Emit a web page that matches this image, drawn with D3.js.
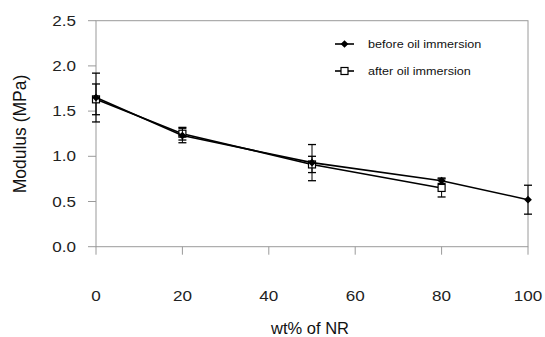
<!DOCTYPE html>
<html>
<head>
<meta charset="utf-8">
<script src="https://cdn.jsdelivr.net/npm/d3@7"></script>
<style>
  html, body { margin: 0; padding: 0; background: #fff; }
  svg { display: block; font-family: "Liberation Sans", Arial, sans-serif; }
</style>
</head>
<body>
<svg id="chart" width="545" height="337"></svg>
<script>
// Modulus vs NR content, before and after oil immersion
const nrContent = [0, 20, 50, 80, 100];
const beforeModulus = [1.65, 1.23, 0.93, 0.73, 0.52];
const beforeError = [0.27, 0.08, 0.20, 0.03, 0.16];
const afterContent = [0, 20, 50, 80];
const afterModulus = [1.63, 1.25, 0.91, 0.65];
const afterError = [0.17, 0.07, 0.09, 0.10];
const xTicks = [0, 20, 40, 60, 80, 100];
const yTicks = [0.0, 0.5, 1.0, 1.5, 2.0, 2.5];
const seriesNames = ["before oil immersion", "after oil immersion"];

const svg = d3.select("#chart");
const plotLeft = 96, plotRight = 528, plotTop = 20.7, plotBottom = 246.7;

const x = d3.scaleLinear().domain([0, 100]).range([plotLeft, plotRight]);
const y = d3.scaleLinear().domain([0, 2.5]).range([plotBottom, plotTop]);

const frameColor = "#9a9a9a";

// plot frame
svg.append("rect")
  .attr("x", plotLeft).attr("y", plotTop)
  .attr("width", plotRight - plotLeft).attr("height", plotBottom - plotTop)
  .attr("fill", "none").attr("stroke", frameColor).attr("stroke-width", 1);

// y ticks and labels
const yAxis = svg.append("g");
yTicks.forEach(v => {
  yAxis.append("line")
    .attr("x1", plotLeft - 8).attr("x2", plotLeft)
    .attr("y1", y(v)).attr("y2", y(v))
    .attr("stroke", frameColor);
  yAxis.append("text")
    .attr("transform", `translate(76,${y(v) + 5}) scale(1.22,1)`)
    .attr("text-anchor", "end")
    .attr("font-size", 14)
    .attr("fill", "#222")
    .text(d3.format(".1f")(v));
});

// x ticks and labels
const xAxis = svg.append("g");
xTicks.forEach(v => {
  xAxis.append("line")
    .attr("x1", x(v)).attr("x2", x(v))
    .attr("y1", plotBottom).attr("y2", plotBottom + 8)
    .attr("stroke", frameColor);
  xAxis.append("text")
    .attr("transform", `translate(${x(v)},301) scale(1.22,1)`)
    .attr("text-anchor", "middle")
    .attr("font-size", 14)
    .attr("fill", "#222")
    .text(v);
});

// axis titles
svg.append("text")
  .attr("transform", `translate(26,134) rotate(-90)`)
  .attr("text-anchor", "middle")
  .attr("font-size", 17.5)
  .attr("fill", "#111")
  .text("Modulus (MPa)");

svg.append("text")
  .attr("x", 310).attr("y", 334)
  .attr("text-anchor", "middle")
  .attr("font-size", 16.5)
  .attr("fill", "#111")
  .text("wt% of NR");

const line = d3.line().x(d => x(d[0])).y(d => y(d[1]));

const afterPts = afterContent.map((c, i) => [c, afterModulus[i], afterError[i]]);
const beforePts = nrContent.map((c, i) => [c, beforeModulus[i], beforeError[i]]);

function errorBars(g, pts) {
  pts.forEach(([c, m, e]) => {
    const cx = x(c);
    g.append("line").attr("x1", cx).attr("x2", cx)
      .attr("y1", y(m - e)).attr("y2", y(m + e))
      .attr("stroke", "#000").attr("stroke-width", 1);
    [m - e, m + e].forEach(v => {
      g.append("line").attr("x1", cx - 4).attr("x2", cx + 4)
        .attr("y1", y(v)).attr("y2", y(v))
        .attr("stroke", "#000").attr("stroke-width", 1.3);
    });
  });
}

// after oil immersion: open squares
const gAfter = svg.append("g");
errorBars(gAfter, afterPts);
gAfter.append("path").datum(afterPts).attr("d", line)
  .attr("fill", "none").attr("stroke", "#000").attr("stroke-width", 1.6);
gAfter.selectAll("rect").data(afterPts).join("rect")
  .attr("x", d => x(d[0]) - 3.5).attr("y", d => y(d[1]) - 3.5)
  .attr("width", 7).attr("height", 7)
  .attr("fill", "#fff").attr("stroke", "#000").attr("stroke-width", 1.2);

// before oil immersion: filled diamonds
const diamond = d3.symbol().type(d3.symbolSquare).size(30);
const gBefore = svg.append("g");
errorBars(gBefore, beforePts);
gBefore.append("path").datum(beforePts).attr("d", line)
  .attr("fill", "none").attr("stroke", "#000").attr("stroke-width", 1.6);
gBefore.selectAll("path.mk").data(beforePts).join("path").attr("class", "mk")
  .attr("d", diamond)
  .attr("transform", d => `translate(${x(d[0])},${y(d[1])}) rotate(45)`)
  .attr("fill", "#000");

// legend
const legend = svg.append("g");
const rows = [44, 71];
rows.forEach((ly, i) => {
  legend.append("line").attr("x1", 335).attr("x2", 354)
    .attr("y1", ly).attr("y2", ly)
    .attr("stroke", "#000").attr("stroke-width", 1.6);
  if (i === 0) {
    legend.append("path").attr("d", diamond)
      .attr("transform", `translate(344.5,${ly}) rotate(45)`).attr("fill", "#000");
  } else {
    legend.append("rect").attr("x", 341).attr("y", ly - 3.5)
      .attr("width", 7).attr("height", 7)
      .attr("fill", "#fff").attr("stroke", "#000").attr("stroke-width", 1.2);
  }
  legend.append("text")
    .attr("transform", `translate(368,${ly + 4}) scale(1.2,1)`)
    .attr("font-size", 10.5)
    .attr("fill", "#111")
    .text(seriesNames[i]);
});
</script>
</body>
</html>
